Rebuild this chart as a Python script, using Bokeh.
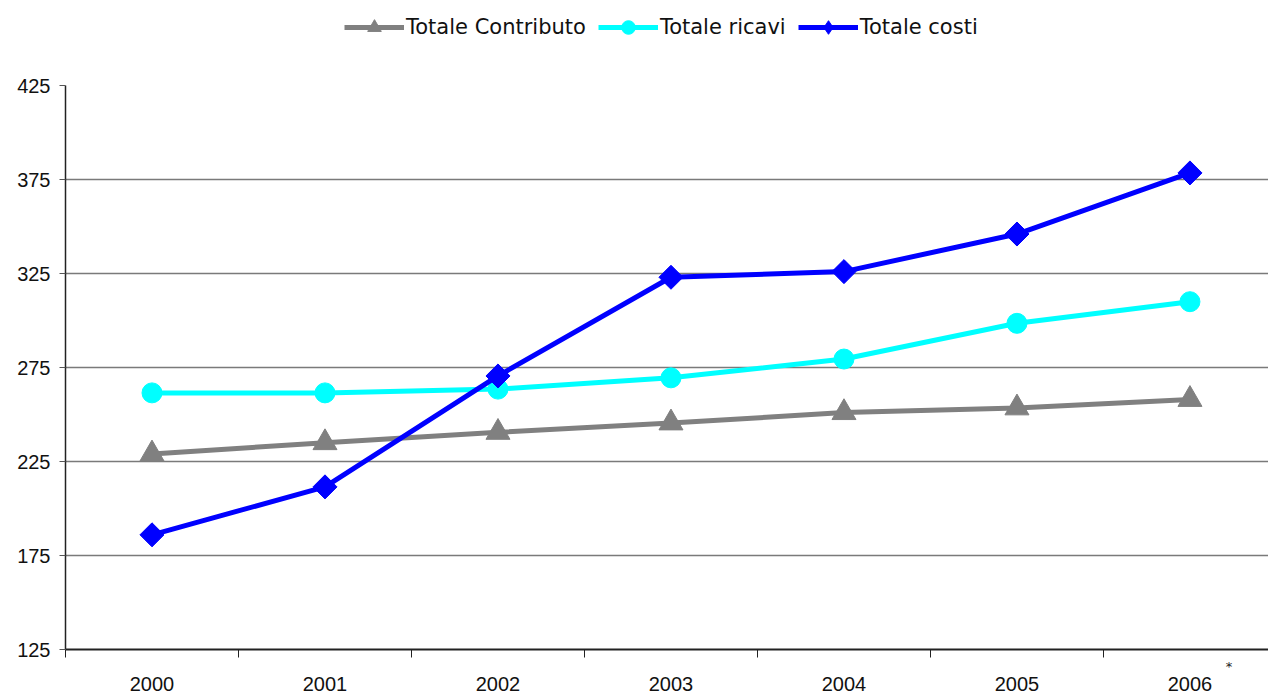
import math
from bokeh.plotting import figure
from bokeh.layouts import column
from bokeh.models import (Range1d, FixedTicker, Legend, LegendItem, LinearAxis)
from bokeh.embed import file_html
from bokeh.resources import INLINE

# Yearly totals
years = ["2000", "2001", "2002", "2003", "2004", "2005", "2006"]
totale_contributo = [229, 235, 240.5, 245.5, 251, 253.5, 258]
totale_ricavi = [261.5, 261.5, 263.5, 269.5, 279.5, 298.5, 310]
totale_costi = [186, 211.5, 270.5, 323, 326, 346, 378.5]
y_ticks = [125, 175, 225, 275, 325, 375, 425]
footnote = "*"

xs = list(range(len(years)))

# name, values, colour, chart marker, size, angle, legend marker
series = [
    ("Totale Contributo", totale_contributo, "#808080", "triangle", 24, 0, "triangle"),
    ("Totale ricavi", totale_ricavi, "#00ffff", "circle", 20, 0, "circle"),
    ("Totale costi", totale_costi, "#0000ff", "square", 17, math.pi / 4, "diamond"),
]

# ---- main chart -------------------------------------------------------
p = figure(width=1268, height=633, output_backend="svg", toolbar_location=None,
           x_range=Range1d(-0.5, 6.454), y_range=Range1d(125, 425),
           min_border_left=65, min_border_right=0, min_border_top=25,
           min_border_bottom=43)
p.outline_line_color = None

axis_font = "Liberation Sans"

# axis next to the frame: separators between years plus the footnote mark
note_x = len(years) - 1 + 0.225
p.xaxis.ticker = FixedTicker(ticks=[note_x], minor_ticks=[i - 0.5 for i in xs])
p.xaxis.major_label_overrides = {note_x: footnote}
p.xaxis.major_tick_out = 0
p.xaxis.major_tick_in = 0
p.xaxis.minor_tick_out = 8
p.xaxis.minor_tick_in = 0
p.xaxis.minor_tick_line_color = "#222222"
p.xaxis.axis_line_color = "#222222"
p.xaxis.axis_line_width = 2
p.xaxis.major_label_text_font = "DejaVu Sans"
p.xaxis.major_label_text_font_size = "13px"
p.xaxis.major_label_text_color = "#222222"
p.xaxis.major_label_standoff = 1

# year labels below
year_axis = LinearAxis(ticker=FixedTicker(ticks=xs),
                       major_label_overrides={i: y for i, y in enumerate(years)})
year_axis.axis_line_color = None
year_axis.major_tick_line_color = None
year_axis.minor_tick_line_color = None
year_axis.major_tick_out = 0
year_axis.major_tick_in = 0
year_axis.major_label_text_font = axis_font
year_axis.major_label_text_font_size = "20px"
year_axis.major_label_text_color = "#111111"
year_axis.major_label_standoff = 0
p.add_layout(year_axis, "below")

p.yaxis.ticker = FixedTicker(ticks=y_ticks)
p.yaxis.major_tick_out = 6
p.yaxis.major_tick_in = 0
p.yaxis.minor_tick_line_color = None
p.yaxis.major_tick_line_color = "#555555"
p.yaxis.axis_line_color = "#222222"
p.yaxis.axis_line_width = 1.5
p.yaxis.major_label_text_font = axis_font
p.yaxis.major_label_text_font_size = "20px"
p.yaxis.major_label_text_color = "#111111"
p.yaxis.major_label_standoff = 9

p.xgrid.grid_line_color = None
p.ygrid.ticker = FixedTicker(ticks=y_ticks)
p.ygrid.grid_line_color = "#7a7a7a"
p.ygrid.grid_line_width = 1.6

for name, vals, color, marker, size, angle, _ in series:
    p.line(xs, vals, line_color=color, line_width=5)
    p.scatter(xs, vals, marker=marker, size=size, angle=angle,
              fill_color=color, line_color=color)

# ---- legend strip -----------------------------------------------------
# the series are drawn here outside the visible range, only their legend
# swatches show
leg = figure(width=1268, height=60, output_backend="svg", toolbar_location=None,
             x_axis_location=None, y_axis_location=None,
             x_range=Range1d(-100, -99), y_range=Range1d(-100, -99),
             min_border=0, min_border_left=0, min_border_right=0,
             min_border_top=0, min_border_bottom=0)
leg.outline_line_color = None
leg.xgrid.visible = False
leg.ygrid.visible = False

items = []
for name, vals, color, marker, size, angle, leg_marker in series:
    lr = leg.line(xs, vals, line_color=color, line_width=5)
    sr = leg.scatter(xs, vals, marker=leg_marker, size=size,
                     fill_color=color, line_color=color)
    items.append(LegendItem(label=name, renderers=[lr, sr]))

legend = Legend(items=items, orientation="horizontal", location=(279, 16))
legend.label_text_font = "DejaVu Sans"
legend.label_text_font_size = "21px"
legend.label_text_color = "#111111"
legend.glyph_width = 60
legend.glyph_height = 34
legend.label_standoff = 2
legend.spacing = 12
legend.padding = 0
legend.margin = 0
legend.border_line_color = None
legend.background_fill_alpha = 0
leg.add_layout(legend, "center")

layout = column(leg, p, spacing=0)
open("out.html", "w").write(file_html(layout, INLINE))
